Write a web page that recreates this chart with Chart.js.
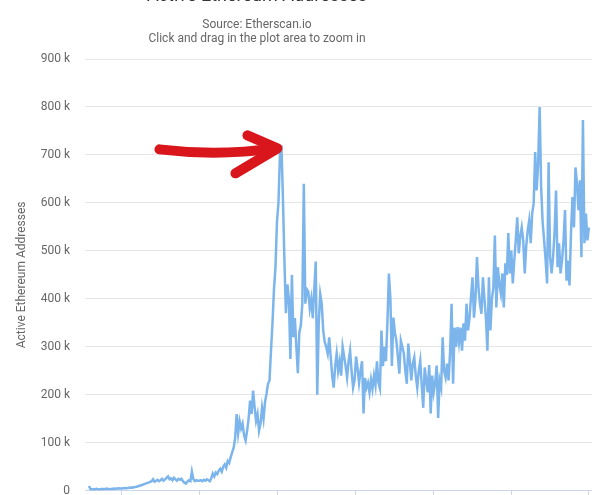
<!DOCTYPE html>
<html>
<head>
<meta charset="utf-8">
<script src="https://cdn.jsdelivr.net/npm/chart.js@4.4.1/dist/chart.umd.min.js"></script>
<style>
  html, body { margin: 0; padding: 0; background: #ffffff; overflow: hidden; width: 612px; height: 495px; }
  #wrap { position: absolute; left: -78px; top: -19px; width: 670px; height: 532px; }
</style>
</head>
<body>
<div id="wrap"><canvas id="c" width="670" height="532"></canvas></div>
<script>
// ---- Chart texts ----
const titleText = 'Active Ethereum Addresses';
const subtitleLines = ['Source: Etherscan.io', 'Click and drag in the plot area to zoom in'];
const yAxisTitle = 'Active Ethereum Addresses';

// ---- Axis ticks ----
const yearTicks = [2016, 2017, 2018, 2019, 2020, 2021, 2022];
const yTickValues = [0, 100000, 200000, 300000, 400000, 500000, 600000, 700000, 800000, 900000];
const xMin = 2015.53;
const xMax = 2022.04;

// ---- Series: weekly samples (like Highcharts pointStart / pointInterval) ----
const pointStart = 2015.58;           // decimal year of first sample
const pointIntervalYears = 7 / 365.25; // one week

const values2015 = [10000, 4000, 3000, 3500, 3000, 4000, 3500, 3000, 3500, 4000, 3500,
  4000, 4500, 4000, 3500, 4000, 4500, 5000, 4500, 5000, 5500, 5000];
const values2016 = [5000, 5500, 6000, 5500, 6000, 6500, 7000, 6500, 7500, 8000, 8500,
  9500, 10500, 11500, 12500, 14000, 15000, 16500, 17000, 18500,
  20000, 24000, 19000, 21000, 23000, 20000, 22000, 25000, 21000, 24000, 27000,
  30000, 24000, 26000, 22000, 27000, 24000, 21000, 25000, 23000, 25000,
  20000, 17000, 15000, 19000, 22000, 20000, 40000, 24000, 20000, 22000, 21000];
const values2017 = [21000, 22000, 20000, 23000, 21000, 24000, 22000, 20000, 26000,
  36000, 30000, 38000, 35000, 42000,
  46000, 40000, 50000, 55000, 48000,
  62000, 58000, 70000, 80000, 90000, 110000,
  160000, 120000, 145000, 130000, 140000, 115000,
  105000, 125000, 150000, 188000, 160000,
  209000, 175000, 146000, 160000, 125000, 140000,
  173000, 150000, 185000, 202000, 223000,
  230000, 292000, 349000, 420000, 465000];
const values2018 = [560000, 600000, 700000, 720000, 610000, 480000, 370000, 430000, 400000, 275000,
  450000, 320000, 360000, 300000, 245000, 330000, 345000, 390000, 640000, 390000,
  420000, 415000, 380000, 400000, 360000, 420000, 478000, 200000, 350000, 410000,
  390000, 334000, 310000, 300000, 286000, 320000, 280000, 240000, 215000, 260000,
  286000, 250000, 270000, 240000, 300000, 280000, 260000, 236000, 270000, 292000,
  250000, 215000];
const values2019 = [230000, 280000, 255000, 225000, 250000, 270000, 161000, 235000, 215000, 225000,
  205000, 232000, 212000, 240000, 220000, 270000, 225000, 213000, 334000, 260000,
  300000, 270000, 350000, 453000, 400000, 260000, 361000, 330000, 313000, 280000,
  244000, 313000, 300000, 286000, 250000, 223000, 307000, 270000, 230000, 265000,
  278000, 240000, 215000, 250000, 271000, 220000, 173000, 257000, 230000, 205000,
  262000, 161000];
const values2020 = [240000, 205000, 225000, 261000, 152000, 230000, 215000, 320000, 250000, 236000,
  265000, 230000, 290000, 390000, 223000, 340000, 300000, 341000, 310000, 340000,
  292000, 349000, 313000, 390000, 334000, 360000, 403000, 445000, 361000, 400000,
  487000, 424000, 390000, 369000, 445000, 400000, 361000, 292000, 445000, 334000,
  400000, 424000, 532000, 382000, 466000, 430000, 411000, 453000, 382000, 474000,
  450000, 537000];
const values2021 = [453000, 501000, 432000, 480000, 522000, 570000, 495000, 530000, 549000, 522000,
  453000, 510000, 543000, 564000, 516000, 578000, 599000, 706000, 626000, 683000,
  800000, 633000, 560000, 522000, 480000, 432000, 685000, 487000, 453000, 487000,
  540000, 626000, 466000, 516000, 453000, 480000, 522000, 585000, 438000, 480000,
  428000, 537000, 612000, 549000, 674000, 641000, 585000, 647000, 487000, 773000,
  516000, 578000, 522000, 549000];

const allValues = [].concat(values2015, values2016, values2017, values2018, values2019, values2020, values2021);
const points = allValues.map((v, i) => ({ x: pointStart + i * pointIntervalYears, y: v }));

// Arrow annotation target: the early-2018 peak
const offset2018 = values2015.length + values2016.length + values2017.length;
const peak2018 = Math.max.apply(null, values2018);
const peakIndex = offset2018 + values2018.indexOf(peak2018);

const arrowPlugin = {
  id: 'arrowNote',
  afterDatasetsDraw(chart) {
    const xs = chart.scales.x, ys = chart.scales.y;
    const tx = xs.getPixelForValue(points[peakIndex].x) - 4;
    const ty = ys.getPixelForValue(peak2018) + 3;
    const ctx = chart.ctx;
    ctx.save();
    ctx.strokeStyle = '#d8161c';
    ctx.lineWidth = 10;
    ctx.lineCap = 'round';
    ctx.lineJoin = 'round';
    ctx.beginPath();
    ctx.moveTo(tx - 118, ty + 1);
    ctx.quadraticCurveTo(tx - 60, ty + 8, tx - 3, ty);
    ctx.stroke();
    ctx.beginPath();
    ctx.moveTo(tx - 30, ty - 13);
    ctx.lineTo(tx, ty);
    ctx.lineTo(tx - 42, ty + 25);
    ctx.stroke();
    ctx.restore();
  }
};

Chart.defaults.font.family = 'Roboto, "Open Sans", sans-serif';

new Chart(document.getElementById('c'), {
  type: 'line',
  data: {
    datasets: [{
      label: 'Active Addresses',
      data: points,
      borderColor: '#7cb5ec',
      borderWidth: 2.5,
      pointRadius: 0,
      tension: 0,
      fill: false
    }]
  },
  options: {
    responsive: false,
    animation: false,
    devicePixelRatio: 1,
    layout: { padding: 0 },
    plugins: {
      legend: { display: false },
      tooltip: { enabled: false },
      title: {
        display: true,
        text: titleText,
        color: '#333333',
        font: { size: 18, weight: 'normal' },
        padding: { top: 5, bottom: 1 }
      },
      subtitle: {
        display: true,
        text: subtitleLines,
        color: '#666666',
        font: { size: 12, weight: 'normal' },
        padding: { top: 8.7, bottom: 12.9 }
      }
    },
    scales: {
      x: {
        type: 'linear',
        min: xMin,
        max: xMax,
        afterBuildTicks: (scale) => { scale.ticks = yearTicks.map(v => ({ value: v })); },
        ticks: { display: false },
        grid: { drawOnChartArea: false, drawTicks: true, tickLength: 10, color: '#ccd6eb' },
        border: { display: true, color: '#ccd6eb', width: 1 }
      },
      y: {
        min: 0,
        max: 900000,
        afterBuildTicks: (scale) => { scale.ticks = yTickValues.map(v => ({ value: v })); },
        afterFit: (scale) => { scale.width = 163; },
        ticks: {
          color: '#666666',
          font: { size: 12 },
          padding: 15,
          callback: (v) => v === 0 ? '0' : (v / 1000) + ' k'
        },
        grid: { color: '#e6e6e6', drawTicks: false },
        border: { display: false },
        title: {
          display: true,
          text: yAxisTitle,
          color: '#666666',
          font: { size: 12 },
          padding: { top: 92.8, bottom: 0 }
        }
      }
    }
  },
  plugins: [arrowPlugin]
});
</script>
</body>
</html>
